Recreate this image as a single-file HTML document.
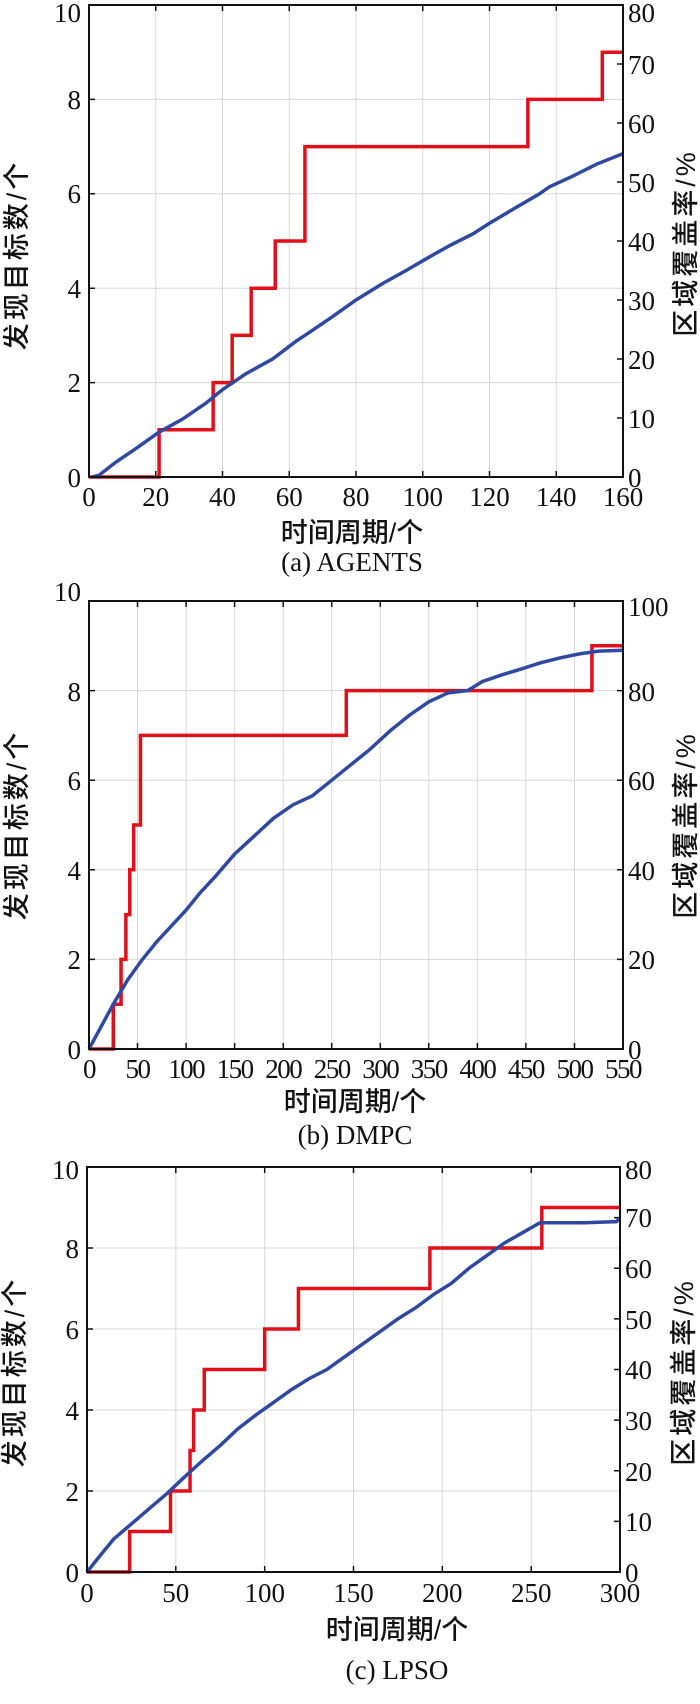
<!DOCTYPE html>
<html><head><meta charset="utf-8"><style>
body{margin:0;background:#fff}
svg{display:block}
text{font-family:"Liberation Serif","Noto Serif CJK SC",serif;font-size:27px;fill:#111}
.cj{font-family:"Liberation Sans","Noto Sans CJK SC",sans-serif;font-size:27px;font-weight:500}
.yl{font-family:"Liberation Sans","Noto Sans CJK SC",sans-serif;font-size:27px;font-weight:500;letter-spacing:3px}
.g{stroke:#d8d8d8;stroke-width:1;fill:none}
.ax{stroke:#111;stroke-width:2;fill:none}
.tk{stroke:#111;stroke-width:1.5;fill:none}
.r{stroke:#e0101a;stroke-width:3.5;fill:none;vector-effect:non-scaling-stroke}
.b{stroke:#2f49a0;stroke-width:3.5;fill:none;vector-effect:non-scaling-stroke}
</style></head><body>
<svg width="700" height="1704" viewBox="0 0 700 1704" xmlns="http://www.w3.org/2000/svg">
<!-- Panel 1 -->
<path class="g" d="M155.75 5V477M222.5 5V477M289.25 5V477M356 5V477M422.75 5V477M489.5 5V477M556.25 5V477M89 382.6H623M89 288.2H623M89 193.8H623M89 99.4H623"/>
<path class="tk" d="M155.75 477v-6M222.5 477v-6M289.25 477v-6M356 477v-6M422.75 477v-6M489.5 477v-6M556.25 477v-6M155.75 5v6M222.5 5v6M289.25 5v6M356 5v6M422.75 5v6M489.5 5v6M556.25 5v6M89 382.6h6M89 288.2h6M89 193.8h6M89 99.4h6M623 418h-6M623 359h-6M623 300h-6M623 241h-6M623 182h-6M623 123h-6M623 64h-6"/>
<g transform="translate(89,477) scale(3.3375,-47.2)"><polyline class="r" points="0,0 21,0 21,1 37.2,1 37.2,2 42.9,2 42.9,3 48.6,3 48.6,4 55.8,4 55.8,5 64.7,5 64.7,7 131.5,7 131.5,8 153.8,8 153.8,9 160,9"/></g>
<g transform="translate(89,477) scale(3.3375,-5.9)"><polyline class="b" points="1,0 3,0.3 8,2.5 14,4.8 21,7.6 28,9.8 35,12.5 40,14.8 47,17.5 55,20 62,23 66,24.5 73,27.2 80,30 88,32.8 95,35 102,37.3 108,39.2 115,41.2 120,43 128,45.7 135,48 138,49.2 145,51 152,53 160,54.8"/></g>
<rect class="ax" x="89" y="5" width="534" height="472"/>
<g text-anchor="end"><text x="81" y="487">0</text><text x="81" y="392">2</text><text x="81" y="298">4</text><text x="81" y="203">6</text><text x="81" y="109">8</text><text x="81" y="22">10</text></g>
<g><text x="628" y="487">0</text><text x="628" y="428">10</text><text x="628" y="369">20</text><text x="628" y="310">30</text><text x="628" y="251">40</text><text x="628" y="192">50</text><text x="628" y="133">60</text><text x="628" y="74">70</text><text x="628" y="22">80</text></g>
<g text-anchor="middle"><text x="89" y="506">0</text><text x="155.75" y="506">20</text><text x="222.5" y="506">40</text><text x="289.25" y="506">60</text><text x="356" y="506">80</text><text x="422.75" y="506">100</text><text x="489.5" y="506">120</text><text x="556.25" y="506">140</text><text x="623" y="506">160</text>
<text class="cj" x="352" y="542">时间周期/个</text><text x="352" y="571">(a) AGENTS</text></g>
<text class="yl" text-anchor="middle" transform="translate(26,255) rotate(-90)">发现目标数/个</text>
<text class="yl" text-anchor="middle" transform="translate(695,243) rotate(-90)">区域覆盖率/%</text>

<!-- Panel 2 -->
<path class="g" d="M137.5 601V1049M186.1 601V1049M234.6 601V1049M283.2 601V1049M331.7 601V1049M380.3 601V1049M428.8 601V1049M477.4 601V1049M525.9 601V1049M574.5 601V1049M89 959.4H623M89 869.8H623M89 780.2H623M89 690.6H623"/>
<path class="tk" d="M137.5 1049v-6M186.1 1049v-6M234.6 1049v-6M283.2 1049v-6M331.7 1049v-6M380.3 1049v-6M428.8 1049v-6M477.4 1049v-6M525.9 1049v-6M574.5 1049v-6M137.5 601v6M186.1 601v6M234.6 601v6M283.2 601v6M331.7 601v6M380.3 601v6M428.8 601v6M477.4 601v6M525.9 601v6M574.5 601v6M89 959.4h6M89 869.8h6M89 780.2h6M89 690.6h6M623 959.4h-6M623 869.8h-6M623 780.2h-6M623 690.6h-6"/>
<g transform="translate(89,1049) scale(0.97091,-44.8)"><polyline class="r" points="0,0 25,0 25,1 33,1 33,2 38,2 38,3 42,3 42,4 46,4 46,5 53,5 53,7 265,7 265,8 518,8 518,9 550,9"/></g>
<g transform="translate(89,1049) scale(0.97091,-4.48)"><polyline class="b" points="0,0 10,4 25,10 40,15.5 55,20 70,24 85,27.5 100,31 115,35 130,38.5 150,43.5 170,47.5 190,51.5 210,54.5 230,56.5 250,60 270,63.5 290,67 310,71 330,74.5 350,77.5 370,79.5 390,80 405,82 425,83.5 445,84.8 465,86.2 485,87.3 505,88.2 525,88.8 550,89"/></g>
<rect class="ax" x="89" y="601" width="534" height="448"/>
<g text-anchor="end"><text x="81" y="1059">0</text><text x="81" y="969">2</text><text x="81" y="880">4</text><text x="81" y="790">6</text><text x="81" y="701">8</text><text x="81" y="601">10</text></g>
<g><text x="628" y="1059">0</text><text x="628" y="969">20</text><text x="628" y="880">40</text><text x="628" y="790">60</text><text x="628" y="701">80</text><text x="628" y="616">100</text></g>
<g text-anchor="middle" font-size="25" letter-spacing="-1.5"><text x="89" y="1078">0</text><text x="137.5" y="1078">50</text><text x="186.1" y="1078">100</text><text x="234.6" y="1078">150</text><text x="283.2" y="1078">200</text><text x="331.7" y="1078">250</text><text x="380.3" y="1078">300</text><text x="428.8" y="1078">350</text><text x="477.4" y="1078">400</text><text x="525.9" y="1078">450</text><text x="574.5" y="1078">500</text><text x="623" y="1078">550</text></g>
<g text-anchor="middle"><text class="cj" x="355" y="1111">时间周期/个</text><text x="355" y="1144">(b) DMPC</text></g>
<text class="yl" text-anchor="middle" transform="translate(26,825) rotate(-90)">发现目标数/个</text>
<text class="yl" text-anchor="middle" transform="translate(695,825) rotate(-90)">区域覆盖率/%</text>

<!-- Panel 3 -->
<path class="g" d="M175.8 1167V1572M264.7 1167V1572M353.5 1167V1572M442.3 1167V1572M531.2 1167V1572M87 1491H620M87 1410H620M87 1329H620M87 1248H620"/>
<path class="tk" d="M175.8 1572v-6M264.7 1572v-6M353.5 1572v-6M442.3 1572v-6M531.2 1572v-6M175.8 1167v6M264.7 1167v6M353.5 1167v6M442.3 1167v6M531.2 1167v6M87 1491h6M87 1410h6M87 1329h6M87 1248h6M620 1521.4h-6M620 1470.75h-6M620 1420.1h-6M620 1369.5h-6M620 1318.9h-6M620 1268.25h-6M620 1217.6h-6"/>
<g transform="translate(87,1572) scale(1.7767,-40.5)"><polyline class="r" points="0,0 24,0 24,1 47,1 47,2 58,2 58,3 60,3 60,4 66,4 66,5 100,5 100,6 119,6 119,7 193,7 193,8 256,8 256,9 300,9"/></g>
<g transform="translate(87,1572) scale(1.7767,-5.0625)"><polyline class="b" points="0,0 8,3.5 15,6.5 25,9.5 35,12.5 45,15.5 55,18.8 65,22 75,25 85,28.3 95,31 105,33.5 115,36 125,38.2 135,40 145,42.5 155,45 165,47.5 175,50 185,52.2 195,54.8 205,57 215,60 225,62.5 235,65 245,67 255,69 260,69 280,69 298,69.2 300,70"/></g>
<rect class="ax" x="87" y="1167" width="533" height="405"/>
<g text-anchor="end"><text x="79" y="1582">0</text><text x="79" y="1501">2</text><text x="79" y="1420">4</text><text x="79" y="1339">6</text><text x="79" y="1258">8</text><text x="79" y="1179">10</text></g>
<g><text x="625" y="1582">0</text><text x="625" y="1531">10</text><text x="625" y="1481">20</text><text x="625" y="1430">30</text><text x="625" y="1379">40</text><text x="625" y="1329">50</text><text x="625" y="1278">60</text><text x="625" y="1227">70</text><text x="625" y="1179">80</text></g>
<g text-anchor="middle"><text x="87" y="1602">0</text><text x="175.8" y="1602">50</text><text x="264.7" y="1602">100</text><text x="353.5" y="1602">150</text><text x="442.3" y="1602">200</text><text x="531.2" y="1602">250</text><text x="620" y="1602">300</text>
<text class="cj" x="397" y="1639">时间周期/个</text><text x="397" y="1679">(c) LPSO</text></g>
<text class="yl" text-anchor="middle" transform="translate(24,1372) rotate(-90)">发现目标数/个</text>
<text class="yl" text-anchor="middle" transform="translate(693,1372) rotate(-90)">区域覆盖率/%</text>
</svg>
</body></html>
